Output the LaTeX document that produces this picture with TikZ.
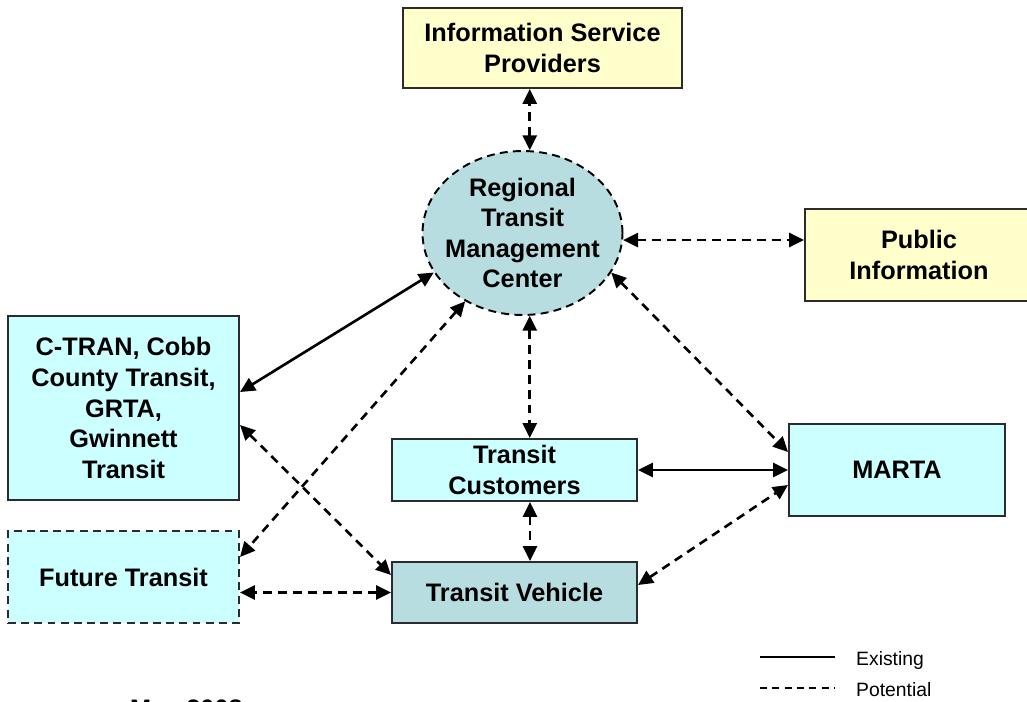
\documentclass[tikz,border=0pt]{standalone}
\usepackage{fontspec}
\setmainfont{Liberation Sans}
\usetikzlibrary{arrows.meta,positioning,calc,shapes.geometric}
\definecolor{agencycyan}{HTML}{CCFFFF}
\definecolor{centerteal}{HTML}{B7DDE0}
\definecolor{infoyellow}{HTML}{FFFFCC}
\definecolor{boxborder}{HTML}{2B2B2B}
\tikzset{
    label text/.style={align=center, font=\bfseries\fontsize{14.4}{17.4}\selectfont},
    box/.style={label text, draw=boxborder, line width=1.2pt, inner sep=2pt},
    agency box/.style={box, fill=agencycyan},
    info box/.style={box, fill=infoyellow},
    vehicle box/.style={box, fill=centerteal},
    future box/.style={agency box, dash pattern=on 4.5pt off 3pt},
    center ellipse/.style={ellipse, draw=black, line width=1.1pt, dash pattern=on 4.5pt off 3pt, fill=centerteal, inner sep=0pt},
    existing/.style={<->, >={Triangle[length=8.5pt,width=8pt]}, line width=1.5pt},
    potential/.style={existing, dash pattern=on 5pt off 3.5pt},
    legend text/.style={anchor=west, font=\fontsize{11}{13}\selectfont},
}

\begin{document}
\begin{tikzpicture}[x=0.02cm, y=-0.02cm]
    \useasboundingbox (0,0) rectangle (1027,702);

    % boxes
    \node[info box, minimum width=5.58cm, minimum height=1.6cm] (isp) at (542.5,48) {Information Service\\Providers};
    \node[center ellipse, minimum width=4cm, minimum height=3.28cm] (rtmc) at (522.5,233) {};
    \node[label text] at (rtmc) {Regional\\Transit\\Management\\Center};
    \node[info box, minimum width=4.56cm, minimum height=1.84cm] (public) at (919,255) {Public\\Information};
    \node[agency box, minimum width=4.62cm, minimum height=3.68cm] (ctran) at (123.5,408) {C-TRAN, Cobb\\County Transit,\\GRTA,\\Gwinnett\\Transit};
    \node[future box, minimum width=4.62cm, minimum height=1.84cm] (future) at (123.5,577) {Future Transit};
    \node[agency box, minimum width=4.9cm, minimum height=1.24cm] (customers) at (514.5,470) {Transit\\Customers};
    \node[vehicle box, minimum width=4.9cm, minimum height=1.22cm] (vehicle) at (514.5,592.5) {Transit Vehicle};
    \node[agency box, minimum width=4.32cm, minimum height=1.84cm] (marta) at (897,470) {MARTA};

    % flows
    \draw[potential] (rtmc.85) -- (rtmc.85 |- isp.south);
    \draw[potential] (rtmc.-4) -- (rtmc.-4 -| public.west);
    \draw[existing] (rtmc.204) -- ($(ctran.east)+(0,-16)$);
    \draw[potential] (rtmc.230) -- ($(future.east)+(0,-20)$);
    \draw[potential] (rtmc.-85) -- (rtmc.-85 |- customers.north);
    \draw[potential] (rtmc.-24) -- ($(marta.west)+(0,-18)$);
    \draw[existing] (customers.east) -- (customers.east -| marta.west);
    \draw[potential] ($(customers.south)+(15.5,0)$) coordinate (cs) -- (cs |- vehicle.north);
    \draw[potential] ($(ctran.east)+(0,17)$) -- ($(vehicle.west)+(0,-17.5)$);
    \draw[potential] (vehicle.west) -- (vehicle.west -| future.east);
    \draw[potential] ($(vehicle.east)+(0,-7.5)$) -- ($(marta.west)+(0,15)$);

    % legend
    \draw[line width=0.9pt] (760,657) -- (835,657);
    \node[legend text] (existing label) at (850,660) {Existing};
    \draw[line width=0.9pt, dash pattern=on 4pt off 3pt] (760,688) -- (835,688);
    \node[legend text] (potential label) at (850,690) {Potential};

    \node[label text, anchor=base west] (date) at (124,717) {May 2008};
\end{tikzpicture}
\end{document}
